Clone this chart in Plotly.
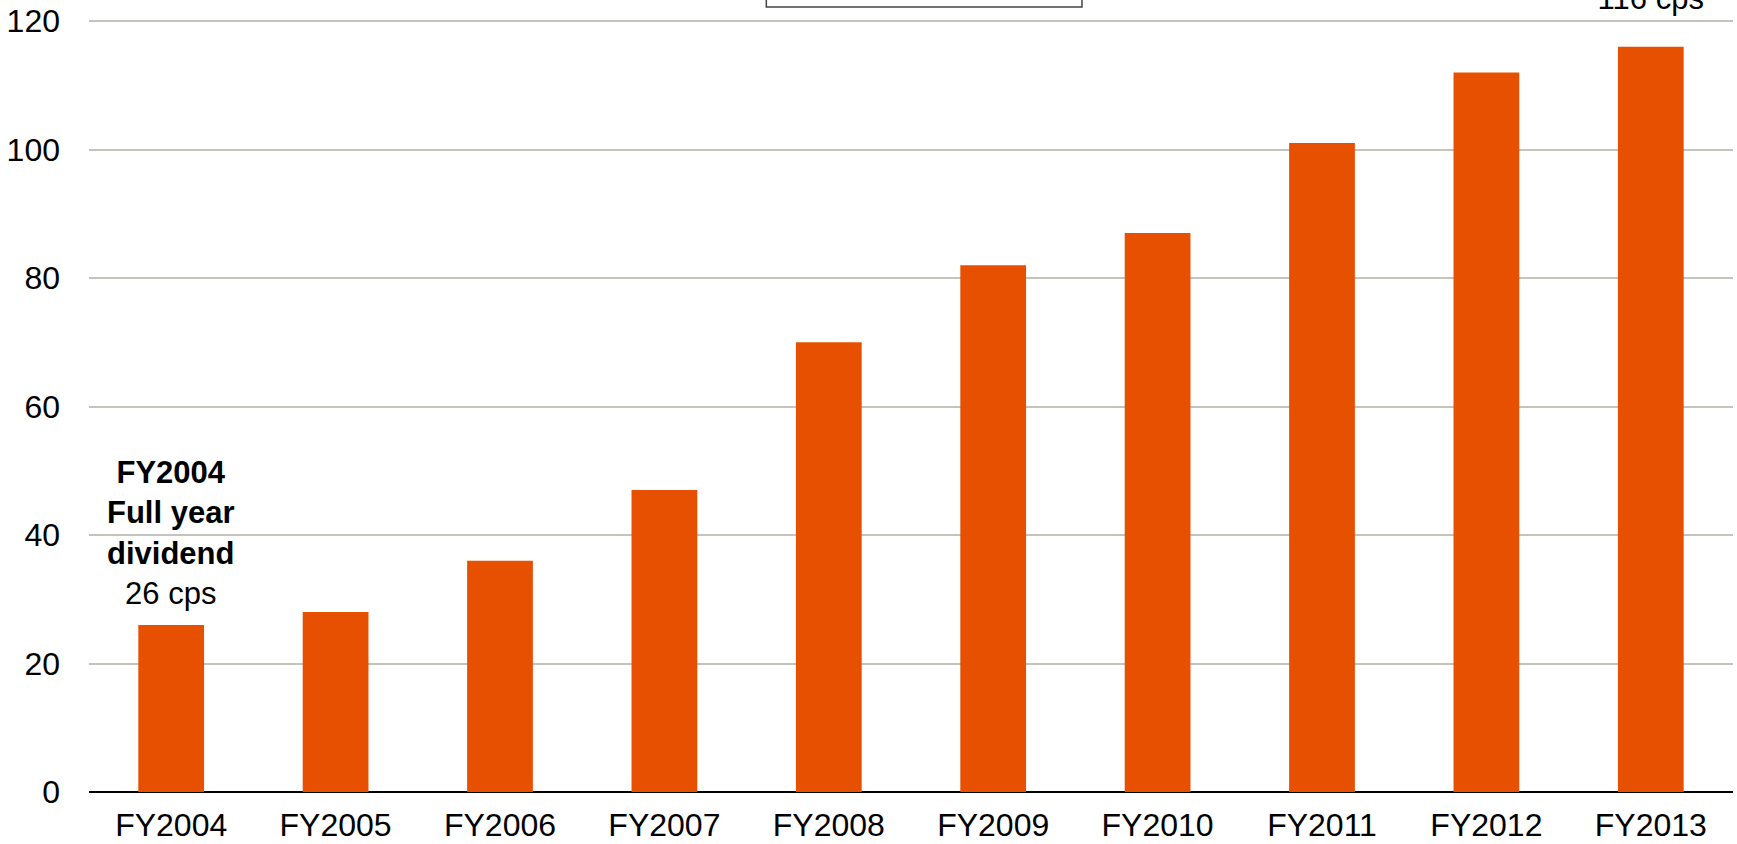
import plotly.graph_objects as go

years = ["FY2004", "FY2005", "FY2006", "FY2007", "FY2008",
         "FY2009", "FY2010", "FY2011", "FY2012", "FY2013"]
dividend_cps = [26, 28, 36, 47, 70, 82, 87, 101, 112, 116]
y_ticks = [0, 20, 40, 60, 80, 100, 120]

BAR_COLOR = "#E65000"
FONT = "Liberation Sans, Arial, sans-serif"
TICK_SIZE = 32
NOTE_SIZE = 31

fig = go.Figure()
fig.add_trace(go.Bar(
    x=years, y=dividend_cps,
    marker=dict(color=BAR_COLOR, line=dict(width=0)),
    hoverinfo="x+y",
))

# callouts for the first and last full-year dividend
callouts = [(0, 12), (len(years) - 1, 29)]
for idx, shift in callouts:
    fig.add_annotation(
        x=years[idx], y=dividend_cps[idx], xref="x", yref="y",
        text=f"<b>{years[idx]}<br>Full year<br>dividend</b><br>{dividend_cps[idx]} cps",
        showarrow=False, yanchor="bottom", yshift=shift,
        font=dict(family=FONT, size=NOTE_SIZE, color="#000000"),
        align="center",
    )

# boxed caption at the top of the chart
fig.add_shape(type="rect", xref="paper", yref="paper",
              x0=0.412, x1=0.604, y0=0.9912, y1=1.06,
              line=dict(color="#444444", width=1.5),
              fillcolor="white", layer="above")

fig.update_layout(
    width=1737, height=844,
    margin=dict(l=89, r=4, t=0, b=52),
    paper_bgcolor="white", plot_bgcolor="white",
    bargap=0.6,
    showlegend=False,
    font=dict(family=FONT, size=TICK_SIZE, color="#000000"),
    xaxis=dict(
        type="category", showgrid=False, ticks="", showline=False,
        ticklabelstandoff=11, automargin=False,
        tickfont=dict(family=FONT, size=TICK_SIZE, color="#000000"),
    ),
    yaxis=dict(
        range=[0, 123.27], tickvals=y_ticks,
        showgrid=True, gridcolor="#C4C4BC", gridwidth=1.5,
        zeroline=True, zerolinecolor="#000000", zerolinewidth=1.5,
        showline=False, ticks="", ticklabelstandoff=28, automargin=False,
        tickfont=dict(family=FONT, size=TICK_SIZE, color="#000000"),
    ),
)

fig.write_html("out.html")
